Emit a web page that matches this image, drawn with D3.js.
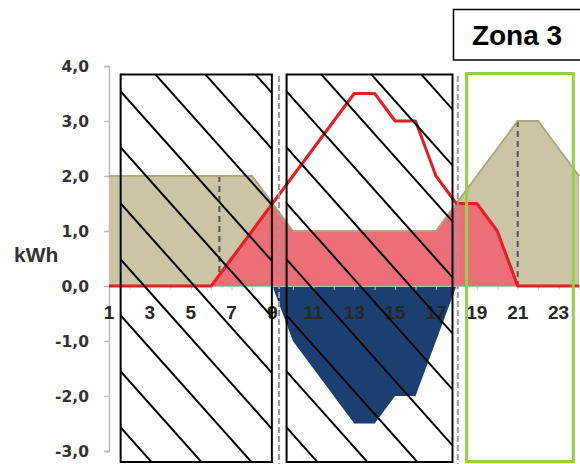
<!DOCTYPE html>
<html>
<head>
<meta charset="utf-8">
<script src="https://cdn.jsdelivr.net/npm/d3@7"></script>
<style>
  html, body { margin: 0; padding: 0; background: #fff; }
  svg { display: block; }
</style>
</head>
<body>
<svg id="chart" width="580" height="464"></svg>
<script>
// ---- data ----
const hours       = [1,2,3,4,5,6,7,8,9,10,11,12,13,14,15,16,17,18,19,20,21,22,23,24];
const consumption = [2,2,2,2,2,2,2,2,1.5,1,1,1,1,1,1,1,1,1.5,2,2.5,3,3,2.5,2];
const production  = [0,0,0,0,0,0,0.5,1,1.5,2,2.5,3,3.5,3.5,3,3,2,1.5,1.5,1,0,0,0,0];
const selfUse     = [0,0,0,0,0,0,0.5,1,1.5,1,1,1,1,1,1,1,1,1.5,1.5,1,0,0,0,0];
const feedIn      = [0,0,0,0,0,0,0,0,0,-1,-1.5,-2,-2.5,-2.5,-2,-2,-1,0,0,0,0,0,0,0];
const yTicks      = [4,3,2,1,0,-1,-2,-3];
const xLabels     = [1,3,5,7,9,11,13,15,17,19,21,23];
const markerHours = [6.4, 21];
const markerVals  = [2, 3];
const separators  = [9.32, 18.07];
const hatchZones  = [[1.57, 8.97], [9.69, 17.81]];
const greenZone   = [18.5, 23.72];
const zoneLabel   = "Zona 3";
const yUnit       = "kWh";

// ---- scales ----
const svg = d3.select("#chart");
const x = d3.scaleLinear().domain([1, 24]).range([109, 579]);
const y = d3.scaleLinear().domain([-3, 4]).range([451, 66]);
const fmt = v => (v < 0 ? "-" : "") + Math.abs(v).toFixed(1).replace(".", ",");

// y axis
const yAxis = svg.append("g").attr("transform", `translate(${x(1)},0)`)
  .call(d3.axisLeft(y).tickValues(yTicks).tickSize(5).tickFormat(""));
yAxis.selectAll("path, line").attr("stroke", "#bdbdbd").attr("stroke-width", 1.5);
svg.append("g").selectAll("text").data(yTicks).join("text")
  .attr("x", 89).attr("y", d => y(d)).attr("dy", "0.36em")
  .attr("text-anchor", "end")
  .attr("font-family", "DejaVu Sans").attr("font-weight", "bold").attr("font-size", 15.5)
  .attr("fill", "#333").text(fmt);
svg.append("text").attr("x", 14).attr("y", 262)
  .attr("font-family", "Liberation Sans, Arial").attr("font-weight", "bold").attr("font-size", 21)
  .attr("fill", "#333").text(yUnit);

const idx = d3.range(hours.length);

// consumption area
svg.append("path")
  .attr("d", d3.area().x(i => x(hours[i])).y0(y(0)).y1(i => y(consumption[i]))(idx))
  .attr("fill", "#ccc4a4");

// dashed markers
svg.append("g").selectAll("line").data(markerHours).join("line")
  .attr("x1", d => x(d)).attr("x2", d => x(d))
  .attr("y1", (d, i) => y(markerVals[i])).attr("y2", y(0))
  .attr("stroke", "#555").attr("stroke-width", 2).attr("stroke-dasharray", "6,4");

// self-consumed area
svg.append("path")
  .attr("d", d3.area().x(i => x(hours[i])).y0(y(0)).y1(i => y(selfUse[i]))(idx))
  .attr("fill", "#ec6e76");

// consumption outline
svg.append("path")
  .attr("d", d3.line().x(i => x(hours[i])).y(i => y(consumption[i]))(idx))
  .attr("fill", "none").attr("stroke", "#aca87c").attr("stroke-width", 2);

// feed-in area
svg.append("path")
  .attr("d", d3.area().x(i => x(hours[i])).y0(y(0)).y1(i => y(feedIn[i]))(idx))
  .attr("fill", "#1c3f72");

// x axis minor ticks
const xAxis = svg.append("g").attr("transform", `translate(0,${y(0)})`)
  .call(d3.axisBottom(x).tickValues(hours).tickSize(4).tickFormat(""));
xAxis.select("path").attr("stroke", "#bdbdbd");
xAxis.selectAll("line").attr("stroke", "#c4c4c4").attr("stroke-width", 1);

// production line
svg.append("path")
  .attr("d", d3.line().x(i => x(hours[i])).y(i => y(production[i]))(idx))
  .attr("fill", "none").attr("stroke", "#e31e24").attr("stroke-width", 3)
  .attr("stroke-linejoin", "round");

// x labels
svg.append("g").selectAll("text").data(xLabels).join("text")
  .attr("x", d => x(d)).attr("y", 319).attr("text-anchor", "middle")
  .attr("font-family", "Liberation Sans, Arial").attr("font-weight", "bold").attr("font-size", 19)
  .attr("fill", "#262626").text(d => d);

// separators
svg.append("g").selectAll("line").data(separators).join("line")
  .attr("x1", d => x(d)).attr("x2", d => x(d)).attr("y1", 76).attr("y2", 464)
  .attr("stroke", "#9a9a9a").attr("stroke-width", 2).attr("stroke-dasharray", "6,3");

// hatched zones
const boxTop = 74.5, boxBottom = 462;
const defs = svg.append("defs");
hatchZones.forEach((z, zi) => {
  const x0 = x(z[0]), x1 = x(z[1]), W = x1 - x0, H = boxBottom - boxTop;
  defs.append("clipPath").attr("id", "clip" + zi)
    .append("rect").attr("x", x0).attr("y", boxTop).attr("width", W).attr("height", H);
  const g = svg.append("g").attr("clip-path", `url(#clip${zi})`);
  const offs = d3.range(-6, 10).map(k => 17 + 56 * k);
  g.selectAll("line").data(offs).join("line")
    .attr("x1", x0).attr("y1", d => boxTop + d)
    .attr("x2", x0 + W).attr("y2", d => boxTop + d + 1.12 * W)
    .attr("stroke", "#000").attr("stroke-width", 2);
  svg.append("rect").attr("x", x0).attr("y", boxTop).attr("width", W).attr("height", H)
    .attr("fill", "none").attr("stroke", "#000").attr("stroke-width", 2);
});

// green zone
svg.append("rect")
  .attr("x", x(greenZone[0])).attr("y", 73.5)
  .attr("width", x(greenZone[1]) - x(greenZone[0])).attr("height", 388)
  .attr("fill", "none").attr("stroke", "#92d050").attr("stroke-width", 3);

// zone label box
svg.append("rect").attr("x", 453.5).attr("y", 9.5).attr("width", 140).attr("height", 50.5)
  .attr("fill", "#fff").attr("stroke", "#000").attr("stroke-width", 1.5);
svg.append("text").attr("x", 517).attr("y", 45).attr("text-anchor", "middle")
  .attr("font-family", "Liberation Sans, Arial").attr("font-weight", "bold").attr("font-size", 28)
  .attr("fill", "#000").text(zoneLabel);
</script>
</body>
</html>
